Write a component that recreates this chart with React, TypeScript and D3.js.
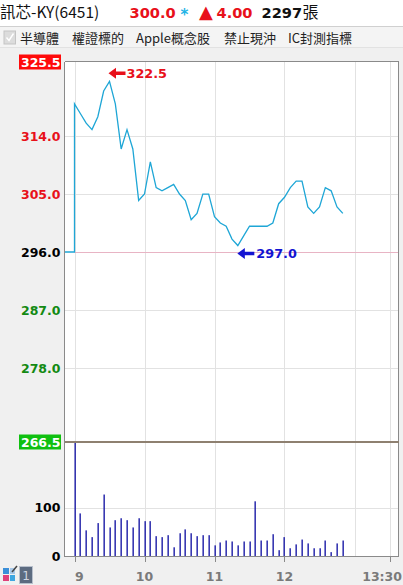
import React from "react";
import * as d3 from "d3";

const W = 403;
const H = 585;

const times = [
  "09:00","09:05","09:10","09:15","09:20","09:25","09:30","09:35","09:40","09:45","09:50","09:55",
  "10:00","10:05","10:10","10:15","10:20","10:25","10:30","10:35","10:40","10:45","10:50","10:55",
  "11:00","11:05","11:10","11:15","11:20","11:25","11:30","11:35","11:40","11:45","11:50","11:55",
  "12:00","12:05","12:10","12:15","12:20","12:25","12:30","12:35","12:40","12:45","12:50",
];
const prices = [
  319.0, 317.5, 316.0, 315.0, 317.0, 321.0, 322.5, 319.0, 312.0, 315.0, 312.0, 304.0,
  305.0, 310.0, 306.0, 305.5, 306.0, 306.5, 305.0, 304.0, 301.0, 302.0, 305.0, 305.0,
  301.5, 300.5, 300.0, 298.0, 297.0, 298.5, 300.0, 300.0, 300.0, 300.0, 300.5, 303.5,
  304.5, 306.0, 307.0, 307.0, 303.0, 302.0, 303.0, 306.0, 305.5, 303.0, 302.0,
];
const volumes = [
  235, 88, 53, 39, 68, 127, 59, 74, 78, 74, 59, 78,
  72, 72, 41, 39, 43, 18, 47, 55, 47, 41, 43, 43,
  22, 28, 32, 30, 22, 30, 30, 113, 32, 32, 45, 12,
  39, 16, 24, 34, 26, 16, 16, 32, 8, 26, 32,
];
const prevClose = 296.0;
const priceMax = 325.5;
const priceMin = 266.5;
const priceGrid = [314.0, 305.0, 287.0, 278.0];
const priceLabels = [325.5, 314.0, 305.0, 296.0, 287.0, 278.0, 266.5];
const volTicks = [0, 100];
const xTickLabels = ["9", "10", "11", "12", "13:30"];
const xTickTimes = ["09:00", "10:00", "11:00", "12:00", "13:30"];
const xGridTimes = ["09:00", "10:00", "11:00", "12:00", "13:00", "13:30"];
const toolbarItems = ["半導體", "權證標的", "Apple概念股", "禁止現沖", "IC封測指標"];
const toolbarX = [20, 72, 136, 224, 288];

const toMin = (t: string) => {
  const [h, m] = t.split(":").map(Number);
  return h * 60 + m;
};

const NUM = "'DejaVu Sans', Verdana, sans-serif";
const CJK = "'Noto Sans CJK TC', 'Noto Sans', sans-serif";

export default function App() {
  const L = 65, R = 398, T = 62, SEP = 442, B = 556;
  const x = d3.scaleLinear().domain([toMin("09:00"), toMin("13:30")]).range([74.5, 389.5]);
  const y = d3.scaleLinear().domain([priceMin, priceMax]).range([SEP, T]);
  const yv = d3.scaleLinear().domain([0, 100]).range([B, B - 48.4]);

  const data = times.map((t, i) => ({ t: toMin(t), p: prices[i], v: volumes[i] }));
  const line = d3.line<{ t: number; p: number }>().x(d => x(d.t)).y(d => y(d.p));
  const pricePath = `M${L},${y(prevClose)}L${x(data[0].t)},${y(prevClose)}` + line(data)!.replace(/^M/, "L");

  const hi = data.reduce((a, b) => (b.p > a.p ? b : a));
  const lo = data.reduce((a, b) => (b.p < a.p ? b : a));

  const arrow = (tx: number, ty: number) =>
    `M${tx},${ty}L${tx + 7.5},${ty - 5.5}L${tx + 7.5},${ty - 1.8}L${tx + 17},${ty - 1.8}L${tx + 17},${ty + 1.8}L${tx + 7.5},${ty + 1.8}L${tx + 7.5},${ty + 5.5}Z`;

  const labelColor = (v: number) => (v > prevClose ? "#e8101a" : v < prevClose ? "#138a13" : "#000");

  const hiX = x(hi.t) - 1, hiY = y(hi.p) - 8;
  const loX = x(lo.t) - 0.5, loY = y(lo.p) + 8;

  return (
    <div style={{ position: "absolute", left: 0, top: 0, width: W, height: H }}>
      <svg width={W} height={H} style={{ display: "block" }}>
        <rect x={0} y={0} width={W} height={H} fill="#ffffff" />
        {/* header */}
        <text x={0} y={18} fontFamily={CJK} fontSize={15.5} fill="#111">訊芯-KY(6451)</text>
        <text x={129.5} y={18} fontFamily={NUM} fontWeight="bold" fontSize={14.6} fill="#e8101a">300.0</text>
        <text x={180.5} y={20} fontFamily={NUM} fontWeight="bold" fontSize={15} fill="#22b4e6">*</text>
        <text x={199} y={18} fontFamily={NUM} fontSize={18} fill="#e8101a">▲</text>
        <text x={216.5} y={18} fontFamily={NUM} fontWeight="bold" fontSize={14.6} fill="#e8101a">4.00</text>
        <text x={261.5} y={18} fontFamily={NUM} fontWeight="bold" fontSize={14.6} fill="#111">2297</text>
        <text x={302.5} y={18} fontFamily={CJK} fontSize={16} fill="#111">張</text>

        {/* toolbar */}
        <rect x={-1} y={26.5} width={W + 2} height={21.5} fill="#f4f4f4" stroke="#d0d0d0" />
        <rect x={4} y={31} width={11.5} height={13} fill="#dcdcdc" stroke="#c4c4c4" />
        <path d="M6.5,37.5L9,40.5L13.5,33.5" fill="none" stroke="#ffffff" strokeWidth={1.4} />
        {toolbarItems.map((s, i) => (
          <text key={s} x={toolbarX[i]} y={42.5} fontFamily={CJK} fontSize={13} fill="#222">{s}</text>
        ))}

        {/* chart background */}
        <rect x={0} y={48} width={W} height={H - 48} fill="#f0f0f0" />
        <rect x={L} y={T} width={R - L} height={B - T} fill="#ffffff" />

        {/* grid */}
        {xGridTimes.map(t => (
          <line key={t} x1={Math.round(x(toMin(t))) + 0.5} x2={Math.round(x(toMin(t))) + 0.5} y1={T} y2={B} stroke="#e2e2e2" />
        ))}
        {priceGrid.map(v => (
          <line key={v} x1={L} x2={R} y1={Math.round(y(v)) + 0.5} y2={Math.round(y(v)) + 0.5} stroke="#e2e2e2" />
        ))}
        <line x1={L} x2={R} y1={Math.round(yv(100)) + 0.5} y2={Math.round(yv(100)) + 0.5} stroke="#e2e2e2" />
        <line x1={x(toMin("09:00"))} x2={R} y1={Math.round(y(prevClose)) + 0.5} y2={Math.round(y(prevClose)) + 0.5} stroke="#e8b4c4" />

        {/* volume bars */}
        {data.map(d => (
          <rect key={d.t} x={Math.round(x(d.t)) - 0.5} y={yv(d.v)} width={1.3} height={B - yv(d.v)} fill="#0a0aa0" />
        ))}

        {/* price line */}
        <path d={pricePath} fill="none" stroke="#1ea6d6" strokeWidth={1.3} />

        {/* high / low marks */}
        <path d={arrow(hiX, hiY)} fill="#e8101a" />
        <text x={hiX + 18} y={hiY + 4.6} fontFamily={NUM} fontWeight="bold" fontSize={12.8} fill="#e8101a">{hi.p.toFixed(1)}</text>
        <path d={arrow(loX, loY)} fill="#1414d2" />
        <text x={loX + 19} y={loY + 4.6} fontFamily={NUM} fontWeight="bold" fontSize={12.8} fill="#1414d2">{lo.p.toFixed(1)}</text>

        {/* frame */}
        <line x1={L - 0.5} x2={L - 0.5} y1={T} y2={B} stroke="#8a8a8a" />
        <line x1={L} x2={R} y1={T - 0.5} y2={T - 0.5} stroke="#8a8a8a" />
        <line x1={R + 0.5} x2={R + 0.5} y1={T - 1} y2={B} stroke="#8a8a8a" />
        <line x1={L} x2={R + 1} y1={SEP} y2={SEP} stroke="#8e8070" strokeWidth={2} />
        <line x1={L - 1} x2={R + 1} y1={B + 0.5} y2={B + 0.5} stroke="#8a8a8a" />
        {xTickTimes.map(t => (
          <line key={t} x1={Math.round(x(toMin(t))) + 0.5} x2={Math.round(x(toMin(t))) + 0.5} y1={B} y2={B + 6} stroke="#8a8a8a" />
        ))}

        {/* price labels */}
        {priceLabels.map((v, i) => {
          const yy = y(v);
          const boxed = i === 0 || i === priceLabels.length - 1;
          if (boxed) {
            const bg = i === 0 ? "#ff0a0a" : "#10c010";
            return (
              <g key={v}>
                <rect x={19} y={yy - 7.5} width={42} height={15} fill={bg} />
                <text x={60.5} y={yy + 4.6} textAnchor="end" fontFamily={NUM} fontWeight="bold" fontSize={12.5} fill="#ffffff">{v.toFixed(1)}</text>
              </g>
            );
          }
          return (
            <text key={v} x={60.5} y={yy + 5} textAnchor="end" fontFamily={NUM} fontWeight="bold" fontSize={12.5} fill={labelColor(v)}>{v.toFixed(1)}</text>
          );
        })}
        {volTicks.map(v => (
          <text key={v} x={60.5} y={yv(v) + 4.6} textAnchor="end" fontFamily={NUM} fontWeight="bold" fontSize={12.5} fill="#000">{v}</text>
        ))}

        {/* x labels */}
        {xTickLabels.map((s, i) => {
          const xx = x(toMin(xTickTimes[i]));
          const anchor = i === 0 ? "start" : i === xTickLabels.length - 1 ? "end" : "middle";
          const px = i === 0 ? xx + 0.5 : i === xTickLabels.length - 1 ? 402 : xx;
          return (
            <text key={s} x={px} y={581} textAnchor={anchor} fontFamily={NUM} fontWeight="bold" fontSize={12.5} fill="#7a7a7a">{s}</text>
          );
        })}

        {/* bottom-left icons */}
        <rect x={3} y={568} width={6} height={6} fill="#3b8fd8" />
        <rect x={10} y={568} width={5} height={6} fill="#a8c8e8" />
        <rect x={3} y={575} width={6} height={6} fill="#e0407a" />
        <rect x={10} y={575} width={5} height={6} fill="#3fa6e0" />
        <path d="M12,572L17,566" stroke="#444" strokeWidth={1.5} />
        <rect x={19.5} y={566.5} width={13} height={17} fill="#5c6b80" stroke="#b8c0cc" />
        <text x={26} y={580} textAnchor="middle" fontFamily={NUM} fontSize={12} fill="#cfd6e2">1</text>
      </svg>
    </div>
  );
}
